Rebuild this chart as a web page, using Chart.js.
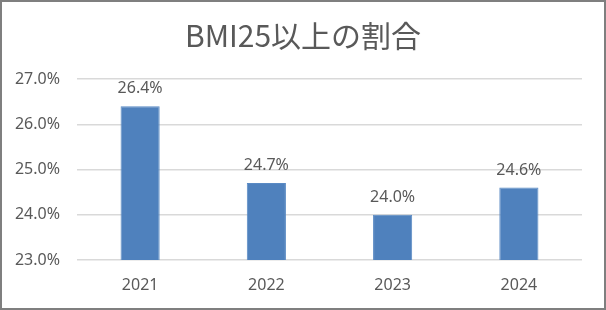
<!DOCTYPE html>
<html>
<head>
<meta charset="utf-8">
<script src="https://cdn.jsdelivr.net/npm/chart.js@4.4.1/dist/chart.umd.min.js"></script>
<style>
  body { margin: 0; background: #fff; }
  #wrap {
    width: 606px; height: 310px; box-sizing: border-box;
    border: 2px solid #7f7f7f; background: #fff;
  }
  #wrap canvas { display: block; }
</style>
</head>
<body>
<div id="wrap"><canvas id="bmiChart" width="602" height="306"></canvas></div>
<script>
const years = ['2021', '2022', '2023', '2024'];
const bmiRate = [26.4, 24.7, 24.0, 24.6]; // % of people with BMI >= 25
const yMin = 23;
const yMax = 27;

const textColor = '#595959';
const gridColor = '#d9d9d9';

// value labels above each bar
const barLabels = {
    id: 'barLabels',
    afterDatasetsDraw(chart) {
        const ctx = chart.ctx;
        const meta = chart.getDatasetMeta(0);
        ctx.save();
        ctx.font = '16px "Noto Sans", sans-serif';
        ctx.fillStyle = textColor;
        ctx.textAlign = 'center';
        ctx.textBaseline = 'alphabetic';
        meta.data.forEach((bar, i) => {
            const v = chart.data.datasets[0].data[i];
            ctx.fillText(v.toFixed(1) + '%', bar.x, bar.y - 13);
        });
        ctx.restore();
    }
};

const ctx = document.getElementById('bmiChart').getContext('2d');
new Chart(ctx, {
    type: 'bar',
    data: {
        labels: years,
        datasets: [{
            data: bmiRate,
            backgroundColor: '#4f81bd',
            borderColor: '#5a8ac4',
            borderWidth: 1,
            categoryPercentage: 1,
            barPercentage: 0.31
        }]
    },
    options: {
        responsive: false,
        animation: false,
        layout: { padding: 0 },
        plugins: {
            legend: { display: false },
            tooltip: { enabled: false },
            title: {
                display: true,
                text: 'BMI25以上の割合',
                color: textColor,
                font: { family: '"Noto Sans CJK JP", sans-serif', size: 30, weight: 'normal' },
                padding: { top: 16, bottom: 25 }
            }
        },
        scales: {
            y: {
                min: yMin,
                max: yMax,
                ticks: {
                    stepSize: 1,
                    color: textColor,
                    padding: 17,
                    font: { family: '"Noto Sans", sans-serif', size: 16 },
                    callback: v => v.toFixed(1) + '%'
                },
                grid: { color: gridColor, lineWidth: 1.5, drawTicks: false },
                border: { display: false },
                afterFit(scale) { scale.width = 75; }
            },
            // empty right-hand margin so the title stays centred on the whole frame
            yRight: {
                position: 'right',
                ticks: { display: false },
                grid: { display: false, drawTicks: false },
                border: { display: false },
                afterFit(scale) { scale.width = 22; }
            },
            x: {
                ticks: {
                    color: textColor,
                    padding: 16,
                    font: { family: '"Noto Sans", sans-serif', size: 16 }
                },
                grid: { display: false, drawTicks: false },
                border: { display: false },
                afterFit(scale) { scale.height = 48; }
            }
        }
    },
    plugins: [barLabels]
});
</script>
</body>
</html>
